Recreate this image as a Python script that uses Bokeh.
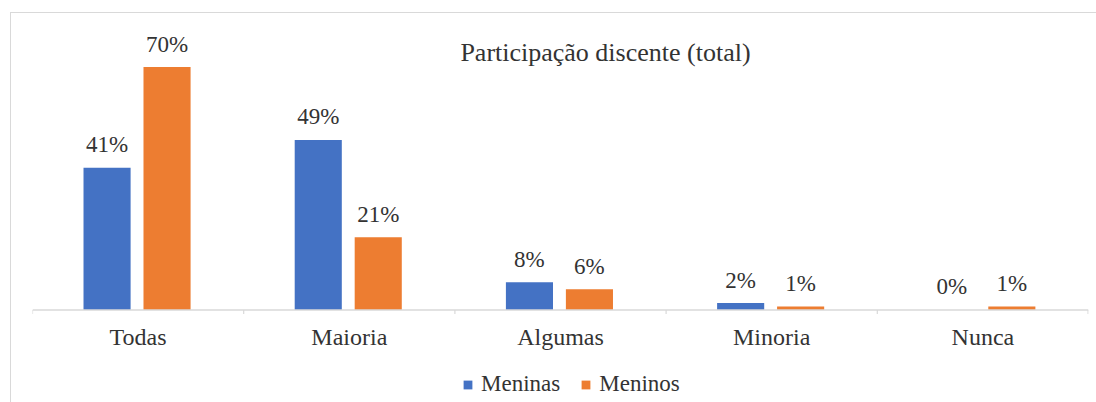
from bokeh.plotting import figure
from bokeh.layouts import column
from bokeh.models import ColumnDataSource, Label, Legend, LegendItem, Span, FactorRange, Range1d
from bokeh.transform import dodge
from bokeh.core.properties import value
from bokeh.embed import file_html
from bokeh.resources import INLINE

# ---- data ----
categories = ["Todas", "Maioria", "Algumas", "Minoria", "Nunca"]
meninas = [41, 49, 8, 2, 0]
meninos = [70, 21, 6, 1, 1]
series_names = ["Meninas", "Meninos"]
title_text = "Participação discente (total)"

BLUE = "#4472C4"
ORANGE = "#ED7D31"
TXT = "#333333"
GRAYLINE = "#d9d9d9"
FONT = "Liberation Serif"

src = ColumnDataSource(dict(
    cat=categories,
    meninas=meninas,
    meninos=meninos,
    lab_a=[f"{v}%" for v in meninas],
    lab_b=[f"{v}%" for v in meninos],
    tick_y0=[0] * len(categories),
    tick_y1=[-1.15] * len(categories),
))

p = figure(
    x_range=FactorRange(factors=categories),
    y_range=Range1d(-1.585, 79.68),
    frame_width=1056, frame_height=282,
    output_backend="svg", toolbar_location=None,
    min_border_left=21, min_border_right=8,
    min_border_top=20, min_border_bottom=45,
)
p.outline_line_color = None
p.xgrid.visible = False
p.ygrid.visible = False
p.yaxis.visible = False
p.background_fill_color = "white"
p.border_fill_color = "white"

xa = p.xaxis[0]
xa.axis_line_color = None
xa.major_tick_line_color = None
xa.minor_tick_line_color = None
xa.major_label_standoff = 2
xa.major_label_text_font = FONT
xa.major_label_text_font_size = "24px"
xa.major_label_text_color = TXT

# axis line and boundary ticks
p.add_layout(Span(location=0, dimension="width", line_color=GRAYLINE, line_width=1.5))
p.segment(x0=dodge("cat", -0.5, range=p.x_range), x1=dodge("cat", -0.5, range=p.x_range),
          y0="tick_y0", y1="tick_y1", source=src, line_color=GRAYLINE, line_width=1.2)
p.segment(x0=dodge("cat", 0.498, range=p.x_range), x1=dodge("cat", 0.498, range=p.x_range),
          y0="tick_y0", y1="tick_y1", source=ColumnDataSource(dict(cat=[categories[-1]], tick_y0=[0], tick_y1=[-1.15])),
          line_color=GRAYLINE, line_width=1.2)

bw = 0.223
r1 = p.vbar(x=dodge("cat", -0.147, range=p.x_range), top="meninas", bottom=0, width=bw,
            source=src, fill_color=BLUE, line_color=None)
r2 = p.vbar(x=dodge("cat", 0.137, range=p.x_range), top="meninos", bottom=0, width=bw,
            source=src, fill_color=ORANGE, line_color=None)

p.text(x=dodge("cat", -0.147, range=p.x_range), y="meninas", text="lab_a", source=src,
       text_align="center", text_baseline="alphabetic", y_offset=-23,
       text_font=value(FONT), text_font_size="23px", text_color=TXT)
p.text(x=dodge("cat", 0.137, range=p.x_range), y="meninos", text="lab_b", source=src,
       text_align="center", text_baseline="alphabetic", y_offset=-23,
       text_font=value(FONT), text_font_size="23px", text_color=TXT)

p.add_layout(Label(x=2.713, y=74.2, text=title_text, text_align="center", text_baseline="middle",
                   text_font=FONT, text_font_size="26px", text_color=TXT))

# ---- legend strip (separate figure so that the legend is not clipped) ----
# the same series are drawn here outside the visible y range, only to feed the legend swatches
pl = figure(width=1085, height=44, x_range=FactorRange(factors=categories), y_range=Range1d(500, 501),
            output_backend="svg", toolbar_location=None,
            min_border=0, min_border_left=0, min_border_right=0,
            min_border_top=0, min_border_bottom=0)
pl.axis.visible = False
pl.grid.visible = False
pl.outline_line_color = None
pl.background_fill_color = "white"
pl.border_fill_color = "white"
d1 = pl.vbar(x="cat", top="meninas", bottom=0, width=0.2, source=src, fill_color=BLUE, line_color=None)
d2 = pl.vbar(x="cat", top="meninos", bottom=0, width=0.2, source=src, fill_color=ORANGE, line_color=None)

legend = Legend(
    items=[LegendItem(label=series_names[0], renderers=[d1]),
           LegendItem(label=series_names[1], renderers=[d2])],
    orientation="horizontal", location=(430, 7),
    border_line_color=None, background_fill_alpha=0,
    glyph_width=11, glyph_height=11, label_standoff=8, spacing=20,
    padding=5, margin=0,
    label_text_font=FONT, label_text_font_size="23px", label_text_color=TXT,
)
pl.add_layout(legend)

root = column(p, pl, spacing=0)
root.margin = (12, 0, 0, 10)
root.styles = {"border-left": f"1px solid {GRAYLINE}", "border-top": f"1px solid {GRAYLINE}"}

open("out.html", "w").write(file_html(root, INLINE))
